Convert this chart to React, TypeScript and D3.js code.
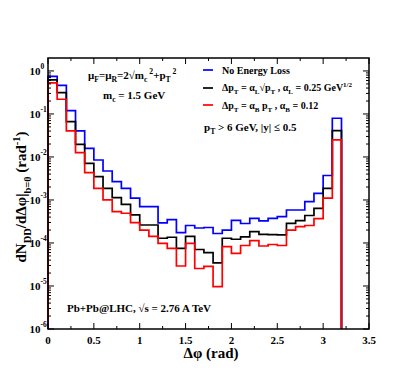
import React from "react";
import * as d3 from "d3";

// Δφ bin edges: 32 bins of width 0.1 rad from 0 to 3.2
const binWidth = 0.1;
const nBins = 32;

const noLoss = [
  0.745, 0.46, 0.119, 0.0403, 0.0159, 0.00851, 0.00472, 0.00267, 0.00187, 0.0011,
  6.98e-4, 6.98e-4, 2.92e-4, 3.48e-4, 1.75e-4, 2.55e-4, 2.23e-4, 2.29e-4, 1.66e-4, 2.0e-4,
  3.34e-4, 2.84e-4, 3.75e-4, 3.25e-4, 3.75e-4, 4.09e-4, 5.85e-4, 5.85e-4, 9.13e-4, 1.43e-3,
  3.71e-3, 0.0794,
];
const collLoss = [
  0.618, 0.313, 0.0662, 0.0197, 0.00713, 0.00348, 0.00187, 0.00113, 7.94e-4, 4.48e-4,
  2.62e-4, 2.62e-4, 1.29e-4, 1.36e-4, 7.53e-5, 1.42e-4, 7.06e-5, 5.95e-5, 3.43e-5, 1.29e-4,
  1.22e-4, 1.38e-4, 1.83e-4, 1.58e-4, 1.56e-4, 1.54e-4, 2.87e-4, 3.3e-4, 4.36e-4, 6.41e-4,
  1.87e-3, 0.0409,
];
const radLoss = [
  0.526, 0.22, 0.0403, 0.0126, 0.00431, 0.00187, 0.001, 5.34e-4, 4.91e-4, 2.97e-4,
  2.0e-4, 1.42e-4, 9.84e-5, 7.53e-5, 2.92e-5, 9.84e-5, 2.55e-5, 2.87e-5, 9.63e-6, 8.2e-5,
  5.76e-5, 8.75e-5, 1.13e-4, 8.51e-5, 9.22e-5, 8.75e-5, 2.0e-4, 2.39e-4, 2.55e-4, 3.67e-4,
  1.1e-3, 0.0249,
];

const xTicks = [0, 0.5, 1, 1.5, 2, 2.5, 3, 3.5];
const xMinorTicks = [0.25, 0.75, 1.25, 1.75, 2.25, 2.75, 3.25];
const yExponents = [0, -1, -2, -3, -4, -5, -6];

type Seg = { t: string; s?: "sub" | "sup" };

function Rich({ x, y, segs, size, anchor = "start", transform }: { x: number; y: number; segs: Seg[]; size: number; anchor?: string; transform?: string }) {
  let cur = 0;
  const children = segs.map((sg, i) => {
    const target = sg.s === "sub" ? size * 0.3 : sg.s === "sup" ? -size * 0.42 : 0;
    const dy = target - cur;
    cur = target;
    return (
      <tspan key={i} dy={dy} fontSize={sg.s ? size * 0.7 : size}>
        {sg.t}
      </tspan>
    );
  });
  return (
    <text x={x} y={y} fontSize={size} textAnchor={anchor} transform={transform} fontFamily="Liberation Serif" fontWeight="bold" fill="#000">
      {children}
    </text>
  );
}

export default function App() {
  const W = 415, H = 388;
  const left = 48, right = 369, top = 58, bottom = 329;
  const x = d3.scaleLinear().domain([0, 3.5]).range([left, right]);
  const y = d3.scaleLog().domain([1e-6, 2]).range([bottom, top]);

  const line = d3.line<[number, number]>().x((d) => x(d[0])).y((d) => y(d[1]));
  const histPath = (vals: number[]) => {
    const pts: [number, number][] = [[0, 1e-6]];
    for (let i = 0; i < nBins; i++) {
      pts.push([i * binWidth, vals[i]]);
      pts.push([(i + 1) * binWidth, vals[i]]);
    }
    pts.push([nBins * binWidth, 1e-6]);
    return line(pts) as string;
  };

  const yMinor: number[] = [];
  for (let e = -6; e <= 0; e++) for (let k = 2; k <= 9; k++) {
    const v = k * Math.pow(10, e);
    if (v < 2) yMinor.push(v);
  }

  const series = [
    { vals: noLoss, color: "#0000ff" },
    { vals: collLoss, color: "#000000" },
    { vals: radLoss, color: "#ff0000" },
  ];

  return (
    <svg width={W} height={H} style={{ position: "absolute", left: 0, top: 0, background: "#fff" }}>
      <rect x={0} y={0} width={W} height={H} fill="#fff" />
      {series.map((s, i) => (
        <path key={i} d={histPath(s.vals)} fill="none" stroke={s.color} strokeWidth={1.7} />
      ))}
      {/* frame */}
      <rect x={left} y={top} width={right - left} height={bottom - top} fill="none" stroke="#000" strokeWidth={1.5} />
      {/* x ticks */}
      {xTicks.map((t) => (
        <g key={"xt" + t}>
          <line x1={x(t)} x2={x(t)} y1={bottom} y2={bottom - 6} stroke="#000" strokeWidth={1} />
          <line x1={x(t)} x2={x(t)} y1={top} y2={top + 6} stroke="#000" strokeWidth={1} />
          <text x={x(t)} y={344} fontSize={11} textAnchor="middle" fontFamily="Liberation Serif" fontWeight="bold">
            {t}
          </text>
        </g>
      ))}
      {xMinorTicks.map((t) => (
        <g key={"xm" + t}>
          <line x1={x(t)} x2={x(t)} y1={bottom} y2={bottom - 3} stroke="#000" strokeWidth={1} />
          <line x1={x(t)} x2={x(t)} y1={top} y2={top + 3} stroke="#000" strokeWidth={1} />
        </g>
      ))}
      {/* y ticks */}
      {yExponents.map((e) => (
        <g key={"yt" + e}>
          <line x1={left} x2={left + 6} y1={y(Math.pow(10, e))} y2={y(Math.pow(10, e))} stroke="#000" strokeWidth={1} />
          <line x1={right} x2={right - 6} y1={y(Math.pow(10, e))} y2={y(Math.pow(10, e))} stroke="#000" strokeWidth={1} />
          <text x={40.5} y={y(Math.pow(10, e)) + 4} fontSize={11} textAnchor="end" fontFamily="Liberation Serif" fontWeight="bold">
            10
          </text>
          <text x={40.5} y={y(Math.pow(10, e)) - 2} fontSize={7.5} textAnchor="start" fontFamily="Liberation Serif" fontWeight="bold">
            {e === 0 ? "0" : "-" + Math.abs(e)}
          </text>
        </g>
      ))}
      {yMinor.map((v, i) => (
        <g key={"ym" + i}>
          <line x1={left} x2={left + 3} y1={y(v)} y2={y(v)} stroke="#000" strokeWidth={1} />
          <line x1={right} x2={right - 3} y1={y(v)} y2={y(v)} stroke="#000" strokeWidth={1} />
        </g>
      ))}
      {/* axis labels */}
      <Rich x={211} y={358} size={15} anchor="middle" segs={[{ t: "Δφ (rad)" }]} />
      <Rich
        x={0}
        y={0}
        size={15}
        anchor="middle"
        transform="translate(26,197) rotate(-90)"
        segs={[
          { t: "dN" },
          { t: "DD", s: "sub" },
          { t: "/dΔφ|" },
          { t: "b=0", s: "sub" },
          { t: " (rad" },
          { t: "-1", s: "sup" },
          { t: ")" },
        ]}
      />
      {/* annotations */}
      <Rich
        x={88}
        y={79}
        size={11}
        segs={[
          { t: "μ" },
          { t: "F", s: "sub" },
          { t: "=μ" },
          { t: "R", s: "sub" },
          { t: "=2√m" },
          { t: "c", s: "sub" },
          { t: " 2", s: "sup" },
          { t: "+p" },
          { t: "T", s: "sub" },
          { t: " 2", s: "sup" },
        ]}
      />
      <Rich x={103} y={99} size={11} segs={[{ t: "m" }, { t: "c", s: "sub" }, { t: " = 1.5 GeV" }]} />
      {/* legend */}
      {[
        { c: "#0000ff", yy: 70 },
        { c: "#000000", yy: 88 },
        { c: "#ff0000", yy: 105 },
      ].map((l, i) => (
        <line key={"lg" + i} x1={203} x2={213} y1={l.yy} y2={l.yy} stroke={l.c} strokeWidth={1.7} />
      ))}
      <Rich x={222} y={73.5} size={10} segs={[{ t: "No Energy Loss" }]} />
      <Rich
        x={222}
        y={91}
        size={10}
        segs={[
          { t: "Δp" },
          { t: "T", s: "sub" },
          { t: " = α" },
          { t: "L", s: "sub" },
          { t: "√p" },
          { t: "T", s: "sub" },
          { t: " , α" },
          { t: "L", s: "sub" },
          { t: " = 0.25 GeV" },
          { t: "1/2", s: "sup" },
        ]}
      />
      <Rich
        x={222}
        y={108.5}
        size={10}
        segs={[
          { t: "Δp" },
          { t: "T", s: "sub" },
          { t: " = α" },
          { t: "B", s: "sub" },
          { t: " p" },
          { t: "T", s: "sub" },
          { t: " , α" },
          { t: "B", s: "sub" },
          { t: " = 0.12" },
        ]}
      />
      <Rich x={204} y={131} size={11} segs={[{ t: "p" }, { t: "T", s: "sub" }, { t: " > 6 GeV, |y| ≤ 0.5" }]} />
      <Rich x={67} y={312} size={11} segs={[{ t: "Pb+Pb@LHC, √s = 2.76 A TeV" }]} />
    </svg>
  );
}
